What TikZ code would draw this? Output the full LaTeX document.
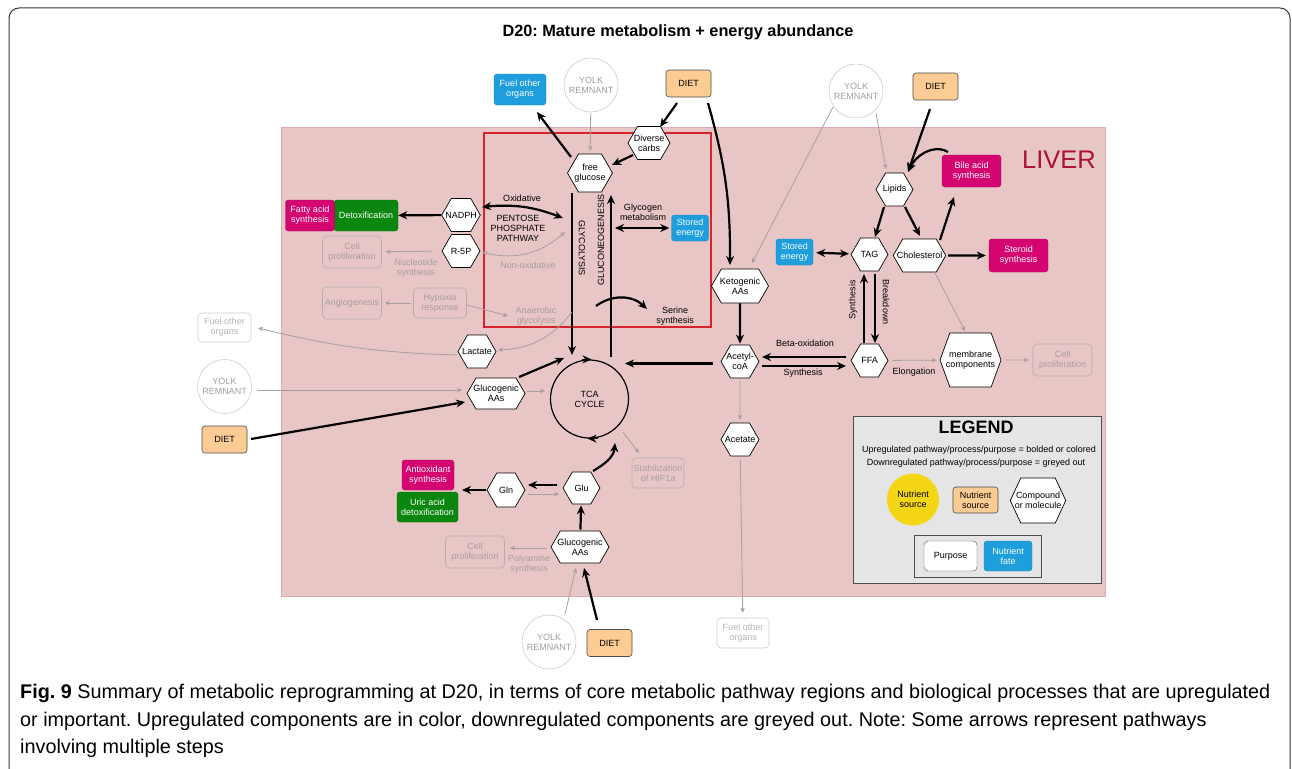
\documentclass[tikz,border=0pt]{standalone}
\usepackage{fontspec}
\setmainfont{Liberation Sans}
\newfontfamily\capfont{Liberation Sans}
\usepackage{xcolor}
\usepackage{tikz}
\usetikzlibrary{positioning,arrows.meta,shapes.symbols,calc}
\frenchspacing

\definecolor{liverbg}{RGB}{232,198,198}
\definecolor{liveredge}{RGB}{222,172,174}
\definecolor{pathred}{RGB}{215,35,42}
\definecolor{livertxt}{RGB}{170,18,50}
\definecolor{fateblue}{RGB}{30,158,220}
\definecolor{upmag}{RGB}{212,4,112}
\definecolor{upgreen}{RGB}{10,135,14}
\definecolor{dietorange}{RGB}{253,203,148}
\definecolor{downgrey}{RGB}{168,158,158}
\definecolor{legendbg}{RGB}{229,229,229}
\definecolor{nutyellow}{RGB}{245,214,20}

\begin{document}
\begin{tikzpicture}[x=1pt,y=1pt,
  every node/.style={font=\fontsize{9}{10}\selectfont, align=center},
  hexa/.style={signal, signal to=east and west, signal pointer angle=120, draw, fill=white,
    line width=0.7pt, inner xsep=-6pt, inner ysep=0.5pt, minimum width=38pt, minimum height=33pt},
  src/.style={draw=black!70, fill=dietorange, rounded corners=3pt, line width=0.6pt,
    minimum width=45pt, minimum height=27pt},
  yolk/.style={circle, draw=black!20, text=black!38, line width=0.6pt, inner sep=0pt,
    minimum size=54pt},
  fate/.style={fill=fateblue, draw=fateblue!85!black, text=white, rounded corners=3pt,
    inner sep=1pt, minimum width=37pt, minimum height=26pt},
  magbox/.style={fill=upmag, draw=upmag!80!black, text=white, rounded corners=3pt,
    inner sep=1pt, minimum width=59pt, minimum height=32pt},
  greenbox/.style={fill=upgreen, draw=upgreen!80!black, text=white, rounded corners=3pt,
    inner sep=1pt, minimum width=61pt, minimum height=30pt},
  downbox/.style={draw=downgrey!85, text=downgrey, rounded corners=4pt, line width=0.6pt,
    inner sep=1pt, minimum width=59pt, minimum height=32pt},
  downtxt/.style={text=downgrey},
  big/.style={line width=2.2pt, -{Stealth[length=9pt,width=8pt]}},
  bigboth/.style={line width=2.2pt, {Stealth[length=9pt,width=8pt]}-{Stealth[length=9pt,width=8pt]}},
  thin/.style={draw=downgrey, line width=0.8pt, -{Stealth[length=5pt,width=4.5pt]}},
  thinboth/.style={draw=downgrey, line width=0.8pt,
    {Stealth[length=5pt,width=4.5pt]}-{Stealth[length=5pt,width=4.5pt]}}
]
  \useasboundingbox (0,0) rectangle (1292,-768);
  % Frame, title, liver
  \draw[black!80, line width=1pt, rounded corners=10pt] (9,-8) rectangle (1290,-800);
  \node[font=\fontsize{16.3}{18}\selectfont\bfseries] (title) at (678,-32)
    {D20: Mature metabolism + energy abundance};
  \draw[fill=liverbg, draw=liveredge, line width=0.8pt] (281,-127) rectangle (1105,-596);
  \node[text=livertxt, font=\fontsize{25.5}{28}\selectfont] (liver) at (1059,-160) {LIVER};
  \draw[pathred, line width=1.2pt] (484,-133) rectangle (711,-327);

  % Sources
  \foreach \n/\x/\y in {dietA/688.5/-83.5, dietB/935.5/-86.5, dietC/224.5/-439.5, dietD/609.5/-643}
    \node[src] (\n) at (\x,\y) {DIET};
  \foreach \n/\x/\y in {yolkA/591/-85, yolkB/856/-91, yolkC/224.5/-386.5, yolkD/549/-642}
    \node[yolk] (\n) at (\x,\y) {YOLK\\REMNANT};

  % Compounds
  \node[hexa, minimum width=42pt] (carbs) at (649,-143) {Diverse\\carbs};
  \node[hexa, minimum width=45pt, minimum height=38pt] (fglu) at (590,-173) {free\\glucose};
  \node[hexa] (nadph) at (461,-215) {NADPH};
  \node[hexa] (r5p) at (461,-251) {R-5P};
  \node[hexa, minimum width=57pt, minimum height=34pt] (keto) at (740,-286) {Ketogenic\\AAs};
  \node[hexa, minimum width=37pt] (lipids) at (894.5,-189.5) {Lipids};
  \node[hexa, minimum width=37pt] (tag) at (869.5,-254.5) {TAG};
  \node[hexa, minimum width=51pt] (chol) at (919.5,-255.5) {Cholesterol};
  \node[hexa, minimum width=37pt] (ffa) at (869.5,-360.5) {FFA};
  \node[hexa] (acoa) at (740,-361.5) {Acetyl-\\coA};
  \node[hexa, signal pointer angle=140, minimum width=61pt, minimum height=54pt] (membr) at (970.5,-360) {membrane\\components};
  \node[hexa] (acet) at (740,-439.5) {Acetate};
  \node[hexa] (lact) at (477,-351.5) {Lactate};
  \node[hexa, minimum width=58pt, minimum height=31pt] (gaaA) at (496,-393.5) {Glucogenic\\AAs};
  \node[hexa, minimum width=37pt, minimum height=32pt] (glu) at (581.5,-488) {Glu};
  \node[hexa, minimum height=34pt] (gln) at (506,-490) {Gln};
  \node[hexa, minimum width=58pt, minimum height=32pt] (gaaB) at (580,-547) {Glucogenic\\AAs};
  \node[circle, draw=black, line width=1.2pt, minimum size=78pt] (tca) at (589.5,-399) {TCA\\CYCLE};

  % Fates and purposes
  \node[fate, minimum width=52pt, minimum height=31pt] (fuelA) at (520,-89.5) {Fuel other\\organs};
  \node[fate] (storeA) at (690,-228) {Stored\\energy};
  \node[fate] (storeB) at (794.5,-252) {Stored\\energy};
  \node[greenbox, minimum width=64pt, minimum height=31pt] (detox) at (366,-215.5) {Detoxification};
  \node[magbox, minimum width=49pt, minimum height=31pt] (fatty) at (310,-215.5) {Fatty acid\\synthesis};
  \node[magbox] (bile) at (971.5,-171) {Bile acid\\synthesis};
  \node[magbox, minimum height=33pt] (steroid) at (1018.5,-255.5) {Steroid\\synthesis};
  \node[magbox, minimum width=52pt, minimum height=30pt] (antiox) at (428,-475) {Antioxidant\\synthesis};
  \node[greenbox] (uric) at (427.5,-507) {Uric acid\\detoxification};
  \foreach \n/\x/\y in {cpA/352/-252, cpB/1062.5/-360, cpC/475/-552}
    \node[downbox] (\n) at (\x,\y) {Cell\\proliferation};
  \node[downbox] (angio) at (352,-303) {Angiogenesis};
  \node[downbox, minimum width=53pt, minimum height=30pt] (hypox) at (440,-303) {Hypoxia\\response};
  \node[downbox, draw=black!20, text=black!30, minimum width=53pt, minimum height=29pt] (fuelB) at (224.5,-327.5) {Fuel other\\organs};
  \node[downbox, minimum width=52pt, minimum height=30pt] (hif) at (658,-473) {Stabilization\\of HIF1a};
  \node[downbox, draw=black!20, text=black!30, minimum width=52pt, minimum height=30pt] (fuelC) at (743,-633) {Fuel other\\organs};

  % Pathway labels
  \node (oxi) at (522,-198) {Oxidative};
  \node (ppp) at (518,-228) {PENTOSE\\PHOSPHATE\\PATHWAY};
  \node[downtxt] (nonoxi) at (528,-265) {Non-oxidative};
  \node[rotate=-90] (glyc) at (582,-248) {GLYCOLYSIS};
  \node[rotate=90] (gng) at (601,-240) {GLUCONEOGENESIS};
  \node (glycogen) at (643,-212) {Glycogen\\metabolism};
  \node (ser) at (675,-316) {Serine\\synthesis};
  \node[downtxt] (anaer) at (536,-316) {Anaerobic\\glycolysis};
  \node[downtxt] (nucl) at (416,-268) {Nucleotide\\synthesis};
  \node (betaox) at (805,-343) {Beta-oxidation};
  \node (fasyn) at (803,-373) {Synthesis};
  \node[rotate=90] (tagsyn) at (853,-300) {Synthesis};
  \node[rotate=-90] (tagbrk) at (886,-302) {Breakdown};
  \node (elong) at (914,-372) {Elongation};
  \node[downtxt] (polyam) at (529,-564) {Polyamine\\synthesis};

  % Upregulated connectors
  \draw[big] ($(fglu)+(-19,16)$) -- ($(fuelA)+(17,-22.5)$);
  \draw[big] ($(dietA)+(-11.5,-19.5)$) -- ($(carbs)+(11,16)$);
  \draw[big] ($(carbs)+(-16,-12)$) -- ($(fglu)+(22,8)$);
  \draw[bigboth] ($(nadph)+(21,8)$) to[bend left=13] ($(fglu)+(-27,-45)$);
  \draw[big] (nadph) -- (detox);
  \draw[big] ($(fglu)+(-18,-20)$) -- ($(tca)+(-17.5,44)$);
  \draw[big] ($(tca)+(21.5,42)$) -- ($(fglu)+(21,-22)$);
  \draw[bigboth, shorten >=2pt] ($(fglu)+(25,-55)$) -- (storeA.west);
  \draw[big] ($(fglu)+(6,-133)$) to[bend left=40] ($(ser)+(-28,7)$);
  \draw[big] ($(dietA)+(19.5,-19.5)$) to[bend left=8] ($(keto)+(-10,21)$);
  \draw[big, shorten >=1pt] (keto) -- (acoa);
  \draw[big] ($(acoa)+(-27,-2)$) -- ($(tca)+(35.5,35.5)$);
  \draw[big] ($(ffa)+(-23.5,3.5)$) -- ($(acoa)+(22,4.5)$);
  \draw[big] ($(acoa)+(22,-4.5)$) -- ($(ffa)+(-23.5,-5.5)$);
  \draw[big] ($(tag)+(5.5,-19.5)$) -- ($(ffa)+(5.5,17.5)$);
  \draw[big] ($(ffa)+(-5.5,17.5)$) -- ($(tag)+(-5.5,-19.5)$);
  \draw[big] ($(lipids)+(-10.5,-17.5)$) -- ($(tag)+(5.5,17.5)$);
  \draw[big] ($(lipids)+(10.5,-17.5)$) -- ($(chol)+(0.5,19.5)$);
  \draw[big] ($(chol)+(20.5,15.5)$) -- ($(bile)+(-17.5,-26)$);
  \draw[big, shorten <=2pt, shorten >=3pt] (chol) -- (steroid);
  \draw[bigboth, shorten <=3pt, shorten >=2pt] (storeB) -- (tag);
  \draw[big] ($(dietB)+(-5.5,-22.5)$) -- ($(lipids)+(13.5,17.5)$);
  \draw[big] ($(bile)+(-23.5,19)$) to[out=150,in=65] ($(lipids)+(13.5,17.5)$);
  \draw[big] ($(dietC)+(26.5,0.5)$) -- ($(gaaA)+(-31,-8.5)$);
  \draw[big] ($(gaaA)+(23,16.5)$) -- ($(tca)+(-25.5,41)$);
  \draw[big] ($(glu)+(11.5,17)$) to[out=30,in=-95] ($(tca)+(25.5,-44)$);
  \draw[big] ($(glu)+(-24.5,3)$) -- ($(gln)+(22,5)$);
  \draw[big] ($(gln)+(-20,0)$) -- ($(gln)+(-44,0)$);
  \draw[big, shorten <=1pt, shorten >=1pt] (gaaB) -- (glu);
  \draw[big] ($(dietD)+(-12.5,23)$) -- ($(gaaB)+(4,-21)$);
  % TCA direction marks
  \draw[line width=1.2pt, -{Stealth[length=9pt,width=8pt]}] ($(tca.north)+(-8,0)$) -- ($(tca.north)+(2,0)$);
  \draw[line width=1.2pt, -{Stealth[length=9pt,width=8pt]}] ($(tca.south)+(8,0)$) -- ($(tca.south)+(-2,0)$);

  % Downregulated connectors
  \draw[thin, shorten >=3pt, shorten <=1pt] (yolkA) -- (fglu);
  \draw[thinboth] ($(r5p)+(21,-1)$) to[bend right=28] ($(fglu)+(-25,-59)$);
  \draw[thin, shorten <=9pt, shorten >=4pt] (r5p) -- (cpA);
  \draw[thin, shorten <=2pt, shorten >=3pt] (hypox) -- (angio);
  \draw[thin] ($(hypox)+(27,-2)$) -- ($(anaer)+(-28,0)$);
  \draw[thin] ($(fglu)+(-18,-139)$) to[bend left=25] ($(lact)+(21,1.5)$);
  \draw[thin] ($(lact)+(-20,-3.5)$) to[bend left=6] ($(fuelB)+(33.5,-0.5)$);
  \draw[thin] ($(yolkC)+(32.5,-3.5)$) -- ($(gaaA)+(-34,3.5)$);
  \draw[thin] ($(gaaA)+(31,2.5)$) -- ($(tca)+(-44.5,8)$);
  \draw[thin] ($(yolkB)+(-23,-16)$) -- ($(keto)+(12,23)$);
  \draw[thin] ($(yolkB)+(20,-22)$) -- ($(lipids)+(-8.5,20.5)$);
  \draw[thin] ($(chol)+(15.5,-17.5)$) -- ($(membr)+(-5.5,29)$);
  \draw[thin, shorten <=4pt, shorten >=3pt] (ffa) -- (membr);
  \draw[thin, shorten <=4pt, shorten >=4pt] (membr) -- (cpB);
  \draw[thin, shorten <=2pt, shorten >=3pt] (acoa) -- (acet);
  \draw[thin, shorten <=3pt, shorten >=5pt] (acet) -- (fuelC);
  \draw[thin] ($(tca)+(33.5,-33)$) -- ($(hif)+(-19,20)$);
  \draw[thin] ($(gln)+(22,-4)$) -- ($(glu)+(-22.5,-6)$);
  \draw[thin] ($(gaaB)+(-33,-1)$) -- ($(cpC)+(35,4)$);
  \draw[thin] ($(yolkD)+(16,28)$) -- ($(gaaB)+(-4,-21)$);

  % Legend
  \node[draw=black!70, fill=legendbg, line width=0.8pt, minimum width=248pt, minimum height=167pt] (legend) at (977,-499.5) {};
  \node[font=\fontsize{18}{20}\selectfont\bfseries] (leghead) at (976,-427) {LEGEND};
  \node (legup) at (979,-450) {Upregulated pathway/process/purpose = bolded or colored};
  \node (legdown) at (976,-463) {Downregulated pathway/process/purpose = greyed out};
  \node[circle, fill=nutyellow, minimum size=52pt, inner sep=0pt] (legyel) at (913,-499.5) {Nutrient\\source};
  \node[src, minimum height=26pt] (legsrc) at (975.5,-500) {Nutrient\\source};
  \node[hexa, signal pointer angle=130, minimum width=52pt, minimum height=45pt] (leghex) at (1038,-500.5) {Compound\\or molecule};
  \node[draw=black!70, line width=0.8pt, minimum width=127pt, minimum height=42pt] (leginner) at (977.5,-556) {};
  \node[draw=black!70, fill=white, rounded corners=4pt, minimum width=53pt, minimum height=30pt] (legpur) at (950.5,-556) {Purpose};
  \node[fate, minimum width=48pt, minimum height=30pt] (legfate) at (1008,-556) {Nutrient\\fate};

  % Caption
  \node[anchor=west, align=left, inner sep=0pt, font=\capfont\fontsize{19.8}{27.5}\selectfont] (caption) at (20,-721)
    {{\bfseries Fig. 9} Summary of metabolic reprogramming at D20, in terms of core metabolic pathway regions and biological processes that are upregulated\\
     or important. Upregulated components are in color, downregulated components are greyed out. Note: Some arrows represent pathways\\
     involving multiple steps};
\end{tikzpicture}
\end{document}
